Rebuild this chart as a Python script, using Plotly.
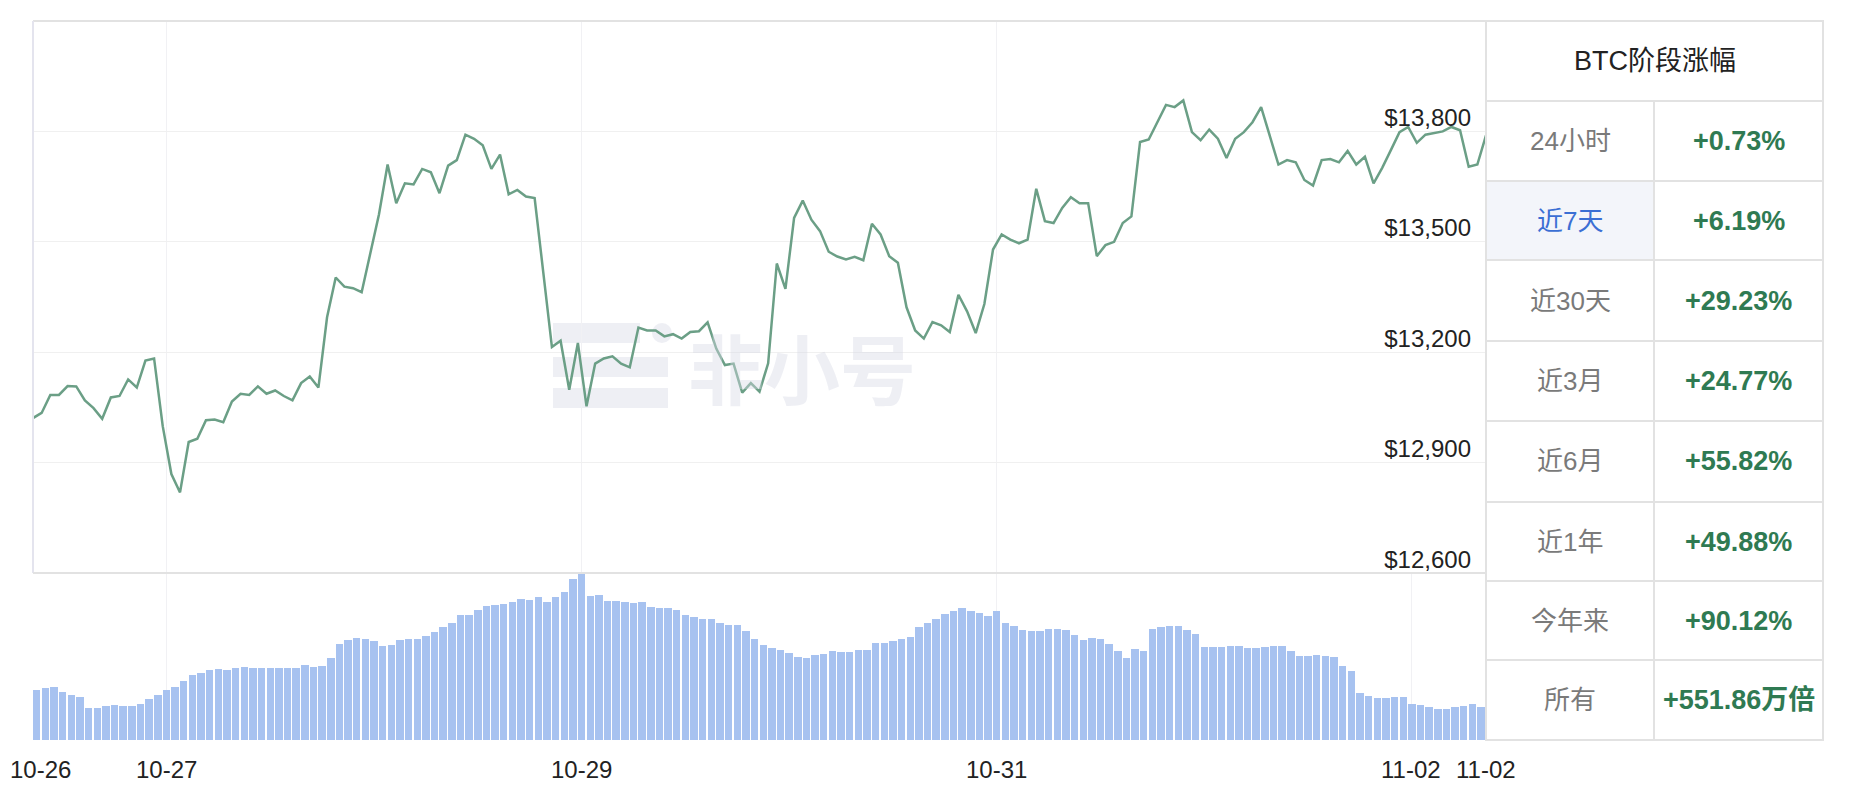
import pandas as pd
import plotly.graph_objects as go

# ---------------- data ----------------
start_time = "2020-10-26 08:37"
price = [
    13021, 13035, 13084, 13084, 13108, 13107, 13069, 13048, 13019, 13077,
    13081, 13126, 13104, 13177, 13183, 12999, 12869, 12819, 12956, 12965,
    13015, 13017, 13010, 13066, 13087, 13084, 13107, 13087, 13096, 13081,
    13069, 13116, 13134, 13104, 13295, 13403, 13378, 13374, 13363, 13466,
    13574, 13710, 13605,
    13659, 13656, 13698, 13689, 13632, 13707, 13722, 13791, 13780, 13762,
    13698, 13737, 13629, 13641, 13623, 13619, 13417, 13214, 13231, 13098,
    13225, 13053, 13169, 13183, 13189, 13169, 13159, 13267, 13259, 13259,
    13243, 13249, 13237, 13255, 13257, 13281, 13210, 13165, 13169, 13090,
    13116, 13093,
    13170, 13441, 13372, 13565, 13612, 13560, 13529, 13473, 13460, 13452,
    13459, 13450, 13549, 13520, 13461, 13443, 13322, 13259, 13237, 13282,
    13273, 13255, 13356, 13311, 13252, 13331, 13479, 13520, 13506, 13496,
    13506, 13644, 13556, 13551, 13592, 13621, 13605, 13605, 13461, 13491,
    13500,
    13551, 13569, 13771, 13778, 13825, 13872, 13866, 13884, 13798, 13776,
    13805, 13780, 13728, 13780, 13798, 13825, 13866, 13789, 13710, 13722,
    13716, 13668, 13653, 13722, 13725, 13716, 13747, 13710, 13731, 13659,
    13701, 13749, 13798, 13812, 13769, 13791, 13796, 13800, 13812, 13803,
    13704, 13710, 13789,
]
volume = [
    150, 155, 160, 144, 135, 130, 97, 97, 103, 106,
    102, 103, 108, 122, 134, 150, 160, 178, 196, 200,
    210, 212, 210, 217, 218, 216, 215, 217, 217, 217,
    217, 224, 219, 222, 247, 288, 300, 305, 303, 295,
    280, 285, 298, 302, 302, 312, 322, 338, 350, 373,
    373, 390, 401, 404, 408, 413, 422, 420, 427, 412,
    428, 444, 483, 500, 430, 435, 417, 417, 414, 410,
    413, 398, 395, 395, 388, 373, 368, 363, 363, 350,
    344, 344, 327, 302, 284, 275, 269, 261, 248, 247,
    254, 258, 266, 262, 263, 270, 270, 291, 291, 297,
    302, 308, 338, 351, 362, 378, 385, 395, 385, 381,
    370, 386, 349, 342, 330, 325, 326, 332, 331, 328,
    313, 299, 305, 303, 287, 265, 247, 272, 265, 333,
    337, 341, 341, 330, 318, 278, 278, 278, 281, 280,
    276, 276, 279, 280, 280, 267, 251, 252, 254, 251,
    248, 222, 207, 142, 132, 127, 127, 129, 129, 107,
    105, 99, 93, 93, 100, 103, 107, 100,
]
day_ticks = ["2020-10-27", "2020-10-29", "2020-10-31", "2020-11-02"]
x_labels = ["10-26", "10-27", "10-29", "10-31", "11-02", "11-02"]
year_label = "2020"
price_ticks = [12600, 12900, 13200, 13500, 13800]

table_title = "BTC阶段涨幅"
periods = ["24小时", "近7天", "近30天", "近3月", "近6月", "近1年", "今年来", "所有"]
changes = ["+0.73%", "+6.19%", "+29.23%", "+24.77%", "+55.82%", "+49.88%", "+90.12%", "+551.86万倍"]
active_period = "近7天"

# ---------------- geometry helpers (screen px -> paper) ----------------
FIG_W, FIG_H = 1840, 778
OFF = 8  # body margin of the page
L, R, T, B = 33, 1823, 21, 740      # screen coords of paper area
PW, PH = R - L, B - T


def sx(x):
    return (x - L) / PW


def sy(y):
    return (B - y) / PH


PLOT_R = 1486
SPLIT = 573
x_dom = [0, sx(PLOT_R)]
vol_top = sy(SPLIT)

times = pd.date_range(start=start_time, periods=len(price), freq="h")
bar_times = times[:-1]
HOUR = 3600 * 1000
label_dates = [times[0]] + [pd.Timestamp(d) for d in day_ticks] + [times[-1]]

FONT = "Liberation Sans, Arial, Noto Sans CJK SC, sans-serif"
CJK = "Liberation Sans, Noto Sans CJK SC, sans-serif"

fig = go.Figure()
fig.add_trace(go.Scatter(
    x=times, y=price, mode="lines",
    line=dict(color="#6b9f86", width=2.5),
    xaxis="x", yaxis="y", hoverinfo="skip",
))
fig.add_trace(go.Bar(
    x=bar_times, y=volume, marker=dict(color="#a7c2f0", line=dict(width=0)),
    width=0.86 * HOUR, offset=0,
    xaxis="x2", yaxis="y2", hoverinfo="skip",
))

x_range = [times[0], times[-1]]
grid_vals = [pd.Timestamp(d) for d in day_ticks]
price_text = ["$" + format(v, ",") for v in price_ticks]

fig.update_layout(
    width=FIG_W, height=FIG_H,
    margin=dict(l=L - OFF, r=FIG_W - (R - OFF), t=T - OFF, b=FIG_H - (B - OFF), autoexpand=False),
    paper_bgcolor="white", plot_bgcolor="white",
    showlegend=False, bargap=0,
    font=dict(family=FONT, color="#333"),
    xaxis=dict(domain=x_dom, anchor="y", range=x_range, matches="x2", automargin=False,
               tickvals=grid_vals, showticklabels=False, showgrid=True,
               gridcolor="#f1f1f4", gridwidth=1, zeroline=False, showline=False, ticks=""),
    xaxis2=dict(domain=x_dom, anchor="y2", range=x_range, automargin=False,
                tickvals=grid_vals, showticklabels=False, showgrid=True,
                gridcolor="#f1f1f4", gridwidth=1, zeroline=False, showline=False, ticks=""),
    yaxis=dict(domain=[vol_top, 1], anchor="x", side="right", range=[12600, 14100],
               tickvals=price_ticks, ticktext=price_text, automargin=False,
               ticklabelposition="inside top", tickfont=dict(size=24, color="#222"),
               showgrid=True, gridcolor="#f0f0f0", gridwidth=1, zeroline=False,
               showline=False, ticks="", ticklabelstandoff=12, ticklabelshift=3),
    yaxis2=dict(domain=[0, vol_top], anchor="x2", range=[0, 500], automargin=False,
                showticklabels=False, showgrid=False, zeroline=False, showline=False),
)

shapes = []
border = "#e2e2e2"
# chart frame lines
shapes.append(dict(type="line", xref="paper", yref="paper", x0=0, x1=sx(PLOT_R), y0=1, y1=1,
                   line=dict(color=border, width=2)))
shapes.append(dict(type="line", xref="paper", yref="paper", x0=0, x1=0, y0=vol_top, y1=1,
                   line=dict(color="#e4e4ee", width=2)))
shapes.append(dict(type="line", xref="paper", yref="paper", x0=0, x1=sx(PLOT_R), y0=vol_top, y1=vol_top,
                   line=dict(color=border, width=2)))

# watermark logo (faint)
wm = "rgba(214,218,228,0.42)"
for (x0, x1, y0, y1) in [(553, 640, 323, 343), (553, 668, 357, 377), (553, 668, 388, 408)]:
    shapes.append(dict(type="rect", xref="paper", yref="paper", layer="below",
                       x0=sx(x0), x1=sx(x1), y0=sy(y1), y1=sy(y0),
                       fillcolor=wm, line=dict(width=0)))
shapes.append(dict(type="circle", xref="paper", yref="paper", layer="below",
                   x0=sx(652), x1=sx(672), y0=sy(343), y1=sy(323),
                   fillcolor=wm, line=dict(width=0)))

# table
TL, TR, TC = PLOT_R, 1823, 1654
row_edges = [21, 101, 181, 260, 341, 421, 502, 581, 660, 740]
for i, p in enumerate(periods):
    if p == active_period:
        shapes.append(dict(type="rect", xref="paper", yref="paper",
                           x0=sx(TL), x1=sx(TC), y0=sy(row_edges[i + 2]), y1=sy(row_edges[i + 1]),
                           fillcolor="#f3f5fa", line=dict(width=0)))
shapes.append(dict(type="rect", xref="paper", yref="paper",
                   x0=sx(TL), x1=sx(TR), y0=sy(row_edges[-1]), y1=sy(row_edges[0]),
                   line=dict(color=border, width=2)))
for ye in row_edges[1:-1]:
    shapes.append(dict(type="line", xref="paper", yref="paper",
                       x0=sx(TL), x1=sx(TR), y0=sy(ye), y1=sy(ye),
                       line=dict(color=border, width=2)))
shapes.append(dict(type="line", xref="paper", yref="paper",
                   x0=sx(TC), x1=sx(TC), y0=sy(row_edges[-1]), y1=sy(row_edges[1]),
                   line=dict(color=border, width=2)))

annotations = []
annotations.append(dict(xref="paper", yref="paper", x=sx((TL + TR) / 2),
                        y=sy((row_edges[0] + row_edges[1]) / 2), text=table_title,
                        xanchor="center", yanchor="middle",
                        showarrow=False, font=dict(family=CJK, size=27, color="#222")))
for i, (p, c) in enumerate(zip(periods, changes)):
    yc = sy((row_edges[i + 1] + row_edges[i + 2]) / 2)
    annotations.append(dict(xref="paper", yref="paper", x=sx((TL + TC) / 2), y=yc, text=p,
                            xanchor="center", yanchor="middle", showarrow=False,
                            font=dict(family=CJK, size=26,
                                      color="#3b6fd4" if p == active_period else "#7a7a7a")))
    annotations.append(dict(xref="paper", yref="paper", x=sx((TC + TR) / 2), y=yc,
                            text="<b>" + c + "</b>", xanchor="center", yanchor="middle",
                            showarrow=False,
                            font=dict(family=CJK, size=27, color="#2f7a52")))

# x-axis labels (date on first line, year on second line)
for k, (d, lab) in enumerate(zip(label_dates, x_labels)):
    shift = 7 if k == 0 else 0   # keep the first label inside the page
    annotations.append(dict(xref="x2", yref="paper", x=d, y=sy(769), xanchor="center",
                            yanchor="middle", text=lab, showarrow=False, xshift=shift,
                            font=dict(family=FONT, size=24, color="#222")))
    annotations.append(dict(xref="x2", yref="paper", x=d, y=sy(795), xanchor="center",
                            yanchor="middle", text=year_label, showarrow=False, xshift=shift,
                            font=dict(family=FONT, size=24, color="#222")))

# watermark text
annotations.append(dict(xref="paper", yref="paper", x=sx(802), y=sy(366), text="<b>非小号</b>",
                        xanchor="center", yanchor="middle",
                        showarrow=False, font=dict(family="Noto Sans CJK SC", size=76,
                                                   color="rgba(214,218,228,0.42)")))

fig.update_layout(shapes=shapes, annotations=annotations)
fig.write_html("out.html")
